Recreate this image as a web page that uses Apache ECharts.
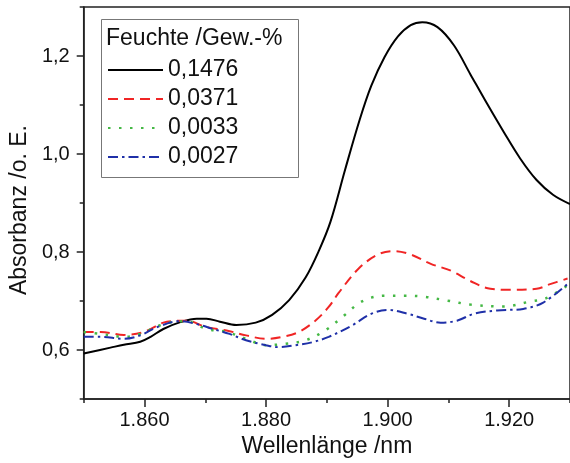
<!DOCTYPE html>
<html>
<head>
<meta charset="utf-8">
<script src="https://cdn.jsdelivr.net/npm/echarts@6/dist/echarts.min.js"></script>
<style>
html,body{margin:0;padding:0;background:#fff;}
#c{width:570px;height:463px;}
</style>
</head>
<body>
<div id="c"></div>
<script>
// ---- data ----
const legendTitle = 'Feuchte /Gew.-%';
const seriesNames = ['0,1476', '0,0371', '0,0033', '0,0027'];

const blackX = [1850, 1854.4, 1856.6, 1859.3, 1861, 1863.1, 1865.9, 1868.6, 1870.2, 1872.4, 1875.1, 1878.3, 1881.0, 1883.8, 1886.5, 1888.7, 1890.6, 1893.0, 1895.4, 1897.3, 1899.5, 1901.7, 1903.8, 1905.7, 1908.2, 1910.9, 1913.6, 1916.3, 1919.1, 1921.8, 1924.5, 1927.2, 1930];
const blackY = [0.593, 0.605, 0.611, 0.617, 0.627, 0.643, 0.657, 0.664, 0.664, 0.658, 0.651, 0.656, 0.672, 0.702, 0.748, 0.803, 0.862, 0.968, 1.070, 1.139, 1.198, 1.240, 1.263, 1.269, 1.259, 1.222, 1.163, 1.104, 1.045, 0.991, 0.947, 0.917, 0.898];

const redX = [1850, 1852.8, 1856.6, 1859.9, 1863.7, 1866.9, 1870.2, 1873.5, 1876.7, 1880.0, 1882.7, 1885.4, 1888.1, 1890.3, 1891.9, 1895.2, 1898.4, 1901.1, 1903.8, 1907.1, 1910.4, 1913.6, 1916.9, 1920.1, 1924.5, 1926.6, 1929.6];
const redY = [0.637, 0.637, 0.631, 0.637, 0.658, 0.660, 0.647, 0.640, 0.630, 0.623, 0.627, 0.637, 0.660, 0.688, 0.716, 0.766, 0.795, 0.802, 0.795, 0.776, 0.762, 0.741, 0.725, 0.723, 0.725, 0.734, 0.746];

const greenX = [1850, 1852.8, 1856.6, 1859.3, 1863.1, 1866.9, 1870.2, 1873.5, 1876.7, 1880.0, 1883.2, 1886.5, 1889.7, 1893.0, 1895.2, 1897.3, 1899.5, 1902.8, 1906.0, 1909.8, 1913.6, 1919.1, 1923.4, 1926.1, 1929.6];
const greenY = [0.637, 0.633, 0.627, 0.633, 0.653, 0.659, 0.643, 0.637, 0.623, 0.610, 0.613, 0.620, 0.640, 0.672, 0.695, 0.707, 0.711, 0.711, 0.709, 0.701, 0.693, 0.689, 0.699, 0.706, 0.732];

const blueX = [1850, 1852.8, 1856.6, 1859.3, 1862.1, 1865.8, 1868.6, 1871.3, 1874.0, 1876.7, 1880.0, 1882.1, 1884.9, 1887.6, 1890.3, 1894.1, 1897.3, 1900.0, 1903.3, 1906.0, 1908.7, 1911.4, 1914.2, 1918.0, 1922.3, 1925.6, 1929.6];
const blueY = [0.627, 0.627, 0.623, 0.630, 0.647, 0.659, 0.653, 0.643, 0.633, 0.620, 0.610, 0.606, 0.610, 0.616, 0.627, 0.650, 0.674, 0.682, 0.674, 0.664, 0.656, 0.660, 0.674, 0.681, 0.684, 0.697, 0.735];

const xMajorTicks = [1860, 1880, 1900, 1920];
const xMinorTicks = [1850, 1870, 1890, 1910, 1930];
const yMajorTicks = [0.6, 0.8, 1.0, 1.2];
const yMinorTicks = [0.5, 0.7, 0.9, 1.1, 1.3];

// ---- chart ----
const FONT = 'Liberation Sans, Arial, sans-serif';
const AX = '#222';
function pairs(xs, ys) { return xs.map((x, i) => [x, ys[i]]); }

const chart = echarts.init(document.getElementById('c'), null, {renderer: 'canvas'});
const gridPos = {left: 83, top: 7, width: 490, height: 396};
const xBase = {type: 'value', min: 1850, max: 1930, gridIndex: 0};
const yBase = {type: 'value', min: 0.5, max: 1.3, gridIndex: 0};

function lineSeries(name, xs, ys, color, width, type) {
  return {
    name: name, type: 'line', smooth: 0.35,
    showSymbol: false, symbol: 'none', symbolSize: 0,
    data: pairs(xs, ys),
    lineStyle: {color: color, width: width, type: type},
    itemStyle: {color: color}
  };
}

const option = {
  animation: false,
  backgroundColor: '#fff',
  grid: [Object.assign({show: true, borderColor: AX, borderWidth: 1.5, backgroundColor: 'transparent'}, gridPos)],
  title: {
    text: legendTitle, left: 106, top: 27, padding: 0,
    textStyle: {fontFamily: FONT, fontSize: 23, fontWeight: 'normal', color: '#111'}
  },
  graphic: [{
    type: 'rect', shape: {x: 101.5, y: 19.5, width: 197, height: 158},
    style: {fill: 'transparent', stroke: '#777', lineWidth: 1}, z: 5
  }],
  legend: {
    orient: 'vertical', left: 107, top: 58, padding: 0,
    itemWidth: 55, itemHeight: 14, itemGap: 5,
    data: seriesNames,
    itemStyle: {opacity: 0, borderWidth: 0},
    textStyle: {fontFamily: FONT, fontSize: 23, color: '#111', lineHeight: 24}
  },
  xAxis: [
    Object.assign({}, xBase, {
      position: 'bottom',
      name: 'Wellenlänge /nm', nameLocation: 'middle', nameGap: 29,
      nameTextStyle: {fontFamily: FONT, fontSize: 23, color: '#111'},
      axisLine: {show: true, lineStyle: {color: AX, width: 1.5}},
      axisTick: {show: true, inside: false, length: 8, customValues: xMajorTicks, lineStyle: {color: AX, width: 1.5}},
      axisLabel: {show: true, margin: 11, customValues: xMajorTicks, fontFamily: FONT, fontSize: 20, color: '#111',
        formatter: v => (v / 1000).toFixed(3)},
      splitLine: {show: false}
    }),
    Object.assign({}, xBase, {
      position: 'bottom',
      axisLine: {show: false},
      axisTick: {show: true, inside: false, length: 4, customValues: xMinorTicks, lineStyle: {color: AX, width: 1.5}},
      axisLabel: {show: false},
      splitLine: {show: false}
    })
  ],
  yAxis: [
    Object.assign({}, yBase, {
      position: 'left',
      name: 'Absorbanz /o. E.', nameLocation: 'middle', nameGap: 45, nameRotate: 90,
      nameTextStyle: {fontFamily: FONT, fontSize: 23, color: '#111', padding: [0, 0, 0, -14]},
      axisLine: {show: true, lineStyle: {color: AX, width: 1.5}},
      axisTick: {show: true, inside: false, length: 7, customValues: yMajorTicks, lineStyle: {color: AX, width: 1.5}},
      axisLabel: {show: true, margin: 14, customValues: yMajorTicks, fontFamily: FONT, fontSize: 20, color: '#111',
        formatter: v => v.toFixed(1).replace('.', ',')},
      splitLine: {show: false}
    }),
    Object.assign({}, yBase, {
      position: 'left',
      axisLine: {show: false},
      axisTick: {show: true, inside: false, length: 4, customValues: yMinorTicks, lineStyle: {color: AX, width: 1.5}},
      axisLabel: {show: false},
      splitLine: {show: false}
    })
  ],
  series: [
    lineSeries(seriesNames[0], blackX, blackY, '#000', 2, 'solid'),
    lineSeries(seriesNames[1], redX, redY, '#f02525', 2, [10, 6]),
    lineSeries(seriesNames[2], greenX, greenY, '#45b845', 2.5, [2.5, 8.5]),
    lineSeries(seriesNames[3], blueX, blueY, '#1f30a8', 2, [10, 4, 2.5, 4])
  ]
};
chart.setOption(option);
</script>
</body>
</html>
